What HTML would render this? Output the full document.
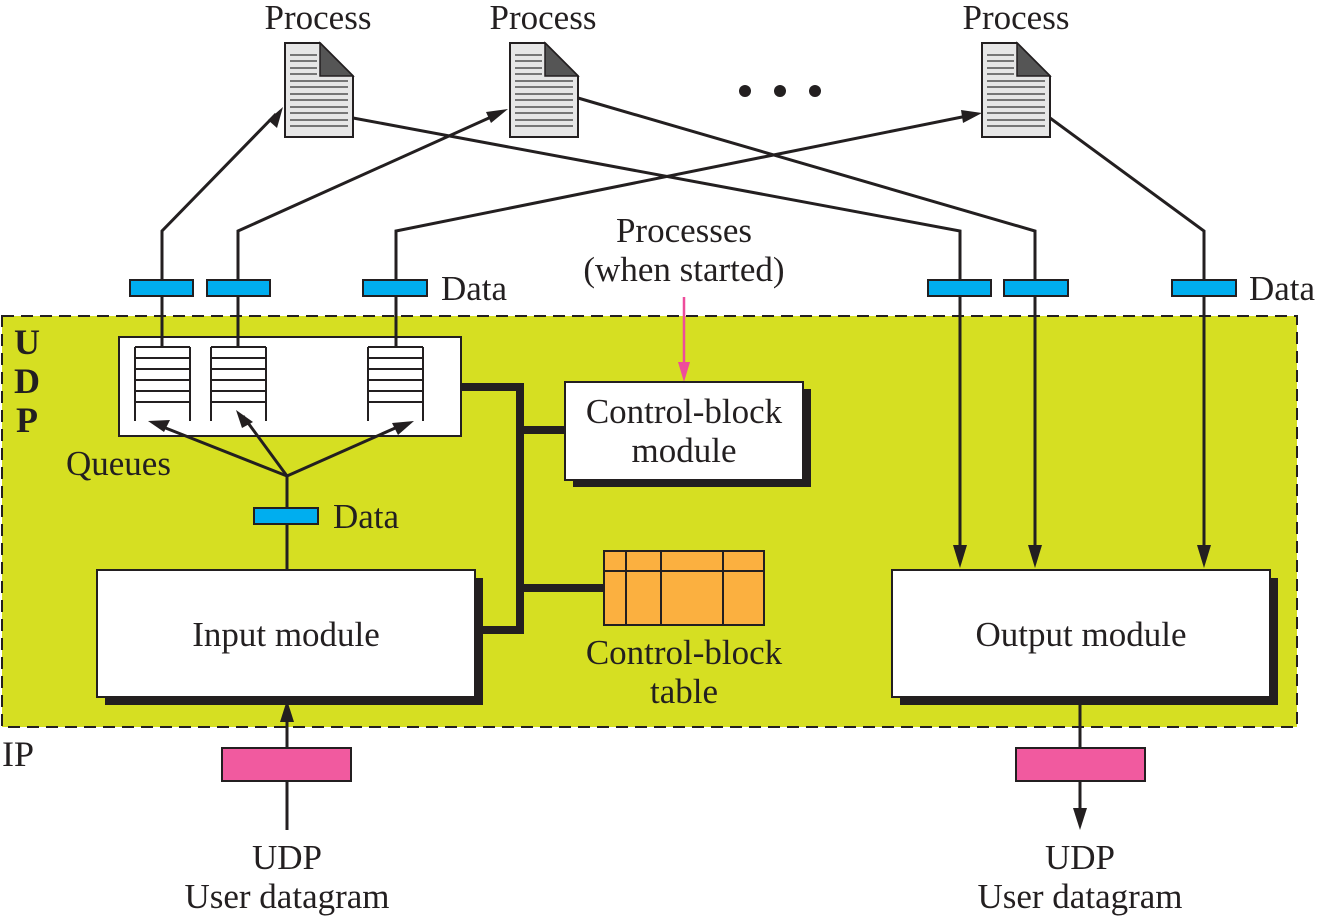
<!DOCTYPE html>
<html><head><meta charset="utf-8"><style>
html,body{margin:0;padding:0;background:#fff;}
svg{display:block;font-family:"Liberation Serif",serif;}
text{fill:#231f20;}
</style></head><body>
<svg width="1317" height="920" viewBox="0 0 1317 920" xmlns="http://www.w3.org/2000/svg">
<defs>
<g id="doc">
<polygon points="0,0 35,0 68,33 68,94 0,94" fill="#e6e6e6" stroke="#231f20" stroke-width="2"/>
<polygon points="35,0 68,33 35,33" fill="#555" stroke="#231f20" stroke-width="1.5"/>
<g stroke="#333" stroke-width="1.3">
<line x1="5" y1="12" x2="32" y2="12"/><line x1="5" y1="18" x2="32" y2="18"/><line x1="5" y1="25" x2="32" y2="25"/><line x1="5" y1="31" x2="32" y2="31"/>
<line x1="5" y1="38" x2="63" y2="38"/><line x1="5" y1="44" x2="63" y2="44"/><line x1="5" y1="51" x2="63" y2="51"/><line x1="5" y1="57" x2="63" y2="57"/><line x1="5" y1="64" x2="63" y2="64"/><line x1="5" y1="70" x2="63" y2="70"/><line x1="5" y1="77" x2="63" y2="77"/><line x1="5" y1="83" x2="63" y2="83"/>
</g>
</g>
<g id="q" fill="none" stroke="#231f20" stroke-width="2">
<line x1="0" y1="0" x2="0" y2="74"/><line x1="55" y1="0" x2="55" y2="74"/>
<line x1="0" y1="0" x2="55" y2="0"/><line x1="0" y1="11" x2="55" y2="11"/><line x1="0" y1="22" x2="55" y2="22"/><line x1="0" y1="33" x2="55" y2="33"/><line x1="0" y1="44" x2="55" y2="44"/><line x1="0" y1="55" x2="55" y2="55"/>
</g>
</defs>

<rect x="2" y="316" width="1295" height="411" fill="#d6df22" stroke="#231f20" stroke-width="2" stroke-dasharray="12,7"/>

<use href="#doc" x="285" y="43"/>
<use href="#doc" x="510" y="43"/>
<use href="#doc" x="982" y="43"/>
<text x="318" y="29" font-size="35" text-anchor="middle">Process</text>
<text x="543" y="29" font-size="35" text-anchor="middle">Process</text>
<text x="1016" y="29" font-size="35" text-anchor="middle">Process</text>
<circle cx="745" cy="91" r="6" fill="#231f20"/><circle cx="780" cy="91" r="6" fill="#231f20"/><circle cx="815" cy="91" r="6" fill="#231f20"/>

<g fill="none" stroke="#231f20" stroke-width="3">
<polyline points="162,347 162,231 276,114"/>
<polyline points="238,347 238,231 500,113"/>
<polyline points="396,347 396,231 972,115"/>
<polyline points="353,118 960,231 960,560"/>
<polyline points="578,98 1035,231 1035,560"/>
<polyline points="1050,118 1204,231 1204,560"/>
<line x1="287" y1="476" x2="287" y2="570"/>
<line x1="287" y1="830" x2="287" y2="712"/>
<line x1="1080" y1="697" x2="1080" y2="818"/>
</g>
<g fill="#231f20">
<polygon points="283,107 277,128 268,120"/>
<polygon points="508,109 491,123 486,112"/>
<polygon points="982,113 963,123 961,110"/>
<polygon points="960,568 953,545 967,545"/>
<polygon points="1035,568 1028,545 1042,545"/>
<polygon points="1204,568 1197,545 1211,545"/>
<polygon points="287,700 280,722 294,722"/>
<polygon points="1080,830 1073,808 1087,808"/>
</g>

<g fill="#00aeef" stroke="#231f20" stroke-width="2">
<rect x="130" y="280" width="63" height="16"/>
<rect x="207" y="280" width="63" height="16"/>
<rect x="363" y="280" width="64" height="16"/>
<rect x="928" y="280" width="63" height="16"/>
<rect x="1004" y="280" width="64" height="16"/>
<rect x="1172" y="280" width="64" height="16"/>
<rect x="254" y="508" width="64" height="16"/>
</g>
<text x="441" y="300" font-size="35">Data</text>
<text x="1249" y="300" font-size="35">Data</text>
<text x="333" y="528" font-size="35">Data</text>

<text x="684" y="242" font-size="35" text-anchor="middle">Processes</text>
<text x="684" y="281" font-size="35" text-anchor="middle">(when started)</text>
<line x1="684" y1="297" x2="684" y2="368" stroke="#ee4c9b" stroke-width="2.5"/>
<polygon points="684,382 678,362 690,362" fill="#ee4c9b"/>

<rect x="119" y="337" width="342" height="99" fill="#fff" stroke="#231f20" stroke-width="2"/>
<use href="#q" x="135" y="347"/>
<use href="#q" x="211" y="347"/>
<use href="#q" x="368" y="347"/>
<g stroke="#231f20" stroke-width="3"><line x1="162" y1="337" x2="162" y2="347"/><line x1="238" y1="337" x2="238" y2="347"/><line x1="396" y1="337" x2="396" y2="347"/></g>
<g fill="#231f20"><polygon points="148,421 170,420 164,432"/><polygon points="236,410 253,422 242,428"/><polygon points="414,421 398,435 392,423"/></g>
<g stroke="#231f20" stroke-width="3"><line x1="287" y1="476" x2="158" y2="425"/><line x1="287" y1="476" x2="243" y2="416"/><line x1="287" y1="476" x2="402" y2="425"/></g>
<text x="66" y="475" font-size="35">Queues</text>

<polyline points="461,387 520,387 520,630 475,630" fill="none" stroke="#231f20" stroke-width="8"/>
<line x1="520" y1="430" x2="566" y2="430" stroke="#231f20" stroke-width="8"/>
<line x1="520" y1="588" x2="605" y2="588" stroke="#231f20" stroke-width="8"/>

<rect x="573" y="389" width="238" height="98" fill="#231f20"/>
<rect x="565" y="382" width="238" height="98" fill="#fff" stroke="#231f20" stroke-width="2"/>
<text x="684" y="423" font-size="35" text-anchor="middle">Control-block</text>
<text x="684" y="462" font-size="35" text-anchor="middle">module</text>

<rect x="604" y="551" width="160" height="74" fill="#fbb040" stroke="#231f20" stroke-width="2"/>
<g stroke="#231f20" stroke-width="2">
<line x1="604" y1="571" x2="764" y2="571"/>
<line x1="626" y1="551" x2="626" y2="625"/>
<line x1="661" y1="551" x2="661" y2="625"/>
<line x1="723" y1="551" x2="723" y2="625"/>
</g>
<text x="684" y="664" font-size="35" text-anchor="middle">Control-block</text>
<text x="684" y="703" font-size="35" text-anchor="middle">table</text>

<rect x="105" y="578" width="378" height="127" fill="#231f20"/>
<rect x="97" y="570" width="378" height="127" fill="#fff" stroke="#231f20" stroke-width="2"/>
<text x="286" y="646" font-size="35" text-anchor="middle">Input module</text>
<rect x="900" y="578" width="378" height="127" fill="#231f20"/>
<rect x="892" y="570" width="378" height="127" fill="#fff" stroke="#231f20" stroke-width="2"/>
<text x="1081" y="646" font-size="35" text-anchor="middle">Output module</text>

<text x="14" y="354" font-size="36" font-weight="bold">U</text>
<text x="14" y="393" font-size="36" font-weight="bold">D</text>
<text x="16" y="432" font-size="36" font-weight="bold">P</text>
<text x="2" y="766" font-size="36">IP</text>

<rect x="222" y="748" width="129" height="33" fill="#f15a9f" stroke="#231f20" stroke-width="2"/>
<rect x="1016" y="748" width="129" height="33" fill="#f15a9f" stroke="#231f20" stroke-width="2"/>

<text x="287" y="869" font-size="35" text-anchor="middle">UDP</text>
<text x="287" y="908" font-size="35" text-anchor="middle">User datagram</text>
<text x="1080" y="869" font-size="35" text-anchor="middle">UDP</text>
<text x="1080" y="908" font-size="35" text-anchor="middle">User datagram</text>
</svg>
</body></html>
